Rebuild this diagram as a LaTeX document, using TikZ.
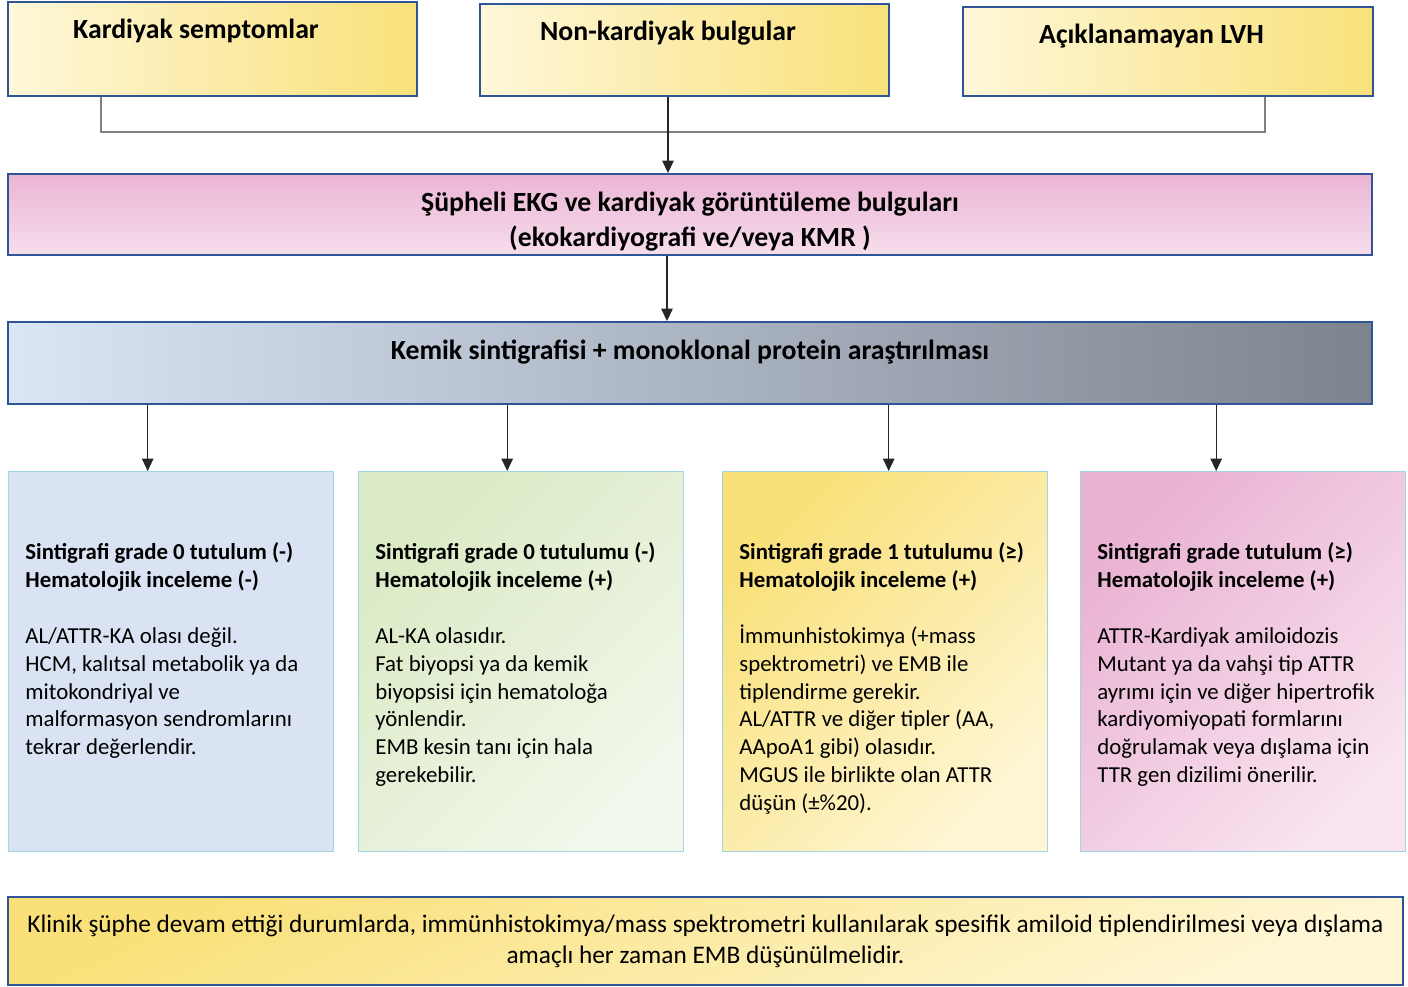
\documentclass[tikz,border=0pt]{standalone}
\usepackage{fontspec}
\setmainfont{Carlito}
\usetikzlibrary{positioning, calc, arrows.meta}

\definecolor{frameblue}{RGB}{47,85,151}
\definecolor{rescyan}{RGB}{160,212,232}
\definecolor{linkgray}{RGB}{128,128,128}
\definecolor{yellowlight}{RGB}{254,247,217}
\definecolor{yellowdeep}{RGB}{249,225,122}
\definecolor{pinktop}{RGB}{235,181,212}
\definecolor{pinkbottom}{RGB}{246,222,236}
\definecolor{kemiklight}{RGB}{218,230,245}
\definecolor{kemikgray}{RGB}{125,131,143}
\definecolor{resblue}{RGB}{218,227,243}
\definecolor{resgreen}{RGB}{218,234,196}
\definecolor{resgreenlight}{RGB}{242,247,235}
\definecolor{resyellow}{RGB}{249,224,120}
\definecolor{resyellowlight}{RGB}{254,246,212}
\definecolor{respink}{RGB}{233,178,210}
\definecolor{respinklight}{RGB}{249,228,239}

\begin{document}
\begin{tikzpicture}[
    every node/.style={font=\fontsize{13}{15.9}\selectfont},
    % Entry boxes: yellow, text close to the top edge
    topbox/.style={rectangle, draw=frameblue, line width=1.1pt,
        inner xsep=0pt, inner ysep=0pt, minimum width=8.18cm,
        text height=0.72cm, anchor=south,
        left color=yellowlight, right color=yellowdeep,
        font=\fontsize{15.8}{19}\selectfont\bfseries,
        execute at end node={\hspace*{0.66cm}}},
    % Full-width step boxes
    stepbox/.style={rectangle, draw=frameblue, line width=1.1pt,
        minimum width=27.28cm, inner sep=0pt,
        font=\fontsize{15.8}{19}\selectfont\bfseries},
    % Result boxes: thin light-blue frame
    resbox/.style={rectangle, draw=rescyan, line width=0.8pt,
        minimum width=6.5cm, minimum height=7.6cm,
        anchor=north west, inner sep=0pt},
    % Text inside the result boxes
    restext/.style={anchor=north west, align=left, inner sep=0pt},
    % Gray bracket joining the entry boxes
    link/.style={draw=linkgray, line width=0.8pt},
    % Arrow between steps
    arr/.style={draw=black!85, line width=0.6pt,
        -{Triangle[width=6.5pt, length=7pt]}},
]
\useasboundingbox (0,0) rectangle (28.16,-19.74);

% ====================================================
% ENTRY BOXES
% ====================================================
\node[topbox, text depth=1.16cm] (top-1) at (4.25, -1.94) {Kardiyak semptomlar};
\node[topbox, text depth=1.12cm] (top-2) at (13.69, -1.94) {Non-kardiyak bulgular};
\node[topbox, text depth=1.06cm, minimum width=8.2cm] (top-3) at (23.36, -1.94) {Açıklanamayan LVH};

% Bracket
\draw[link] ([xshift=-2.23cm]top-1.south) -- ++(0,-0.7) -| ([xshift=1.94cm]top-3.south);

% ====================================================
% STEPS
% ====================================================
\node[stepbox, minimum height=1.62cm, align=center,
    top color=pinktop, bottom color=pinkbottom,
    font=\fontsize{15.8}{19.9}\selectfont\bfseries] (susp) at (13.8, -4.29)
    {\rule{0pt}{0.66cm}Şüpheli EKG ve kardiyak görüntüleme bulguları\\(ekokardiyografi ve/veya KMR )};

\node[stepbox, text height=0.75cm, text depth=0.89cm,
    left color=kemiklight, right color=kemikgray] (kemik) at (13.8, -7.26)
    {Kemik sintigrafisi + monoklonal protein araştırılması};

\draw[arr] ([xshift=-0.33cm]top-2.south) -- ([xshift=-0.33cm]top-2.south |- susp.north);
\draw[arr] ([xshift=-0.46cm]susp.south) -- ([xshift=-0.46cm]kemik.north);

% ====================================================
% RESULT BOXES
% ====================================================
\node[resbox, fill=resblue] (res-1) at (0.16, -9.42) {};
\node[resbox, left color=resgreen, right color=resgreenlight, shading angle=45] (res-2) at (7.16, -9.42) {};
\node[resbox, left color=resyellow, right color=resyellowlight, shading angle=45] (res-3) at (14.44, -9.42) {};
\node[resbox, left color=respink, right color=respinklight, shading angle=45] (res-4) at (21.6, -9.42) {};

\draw[arr] ([xshift=-0.47cm]res-1.north |- kemik.south) -- ([xshift=-0.47cm]res-1.north);
\draw[arr] ([xshift=-0.28cm]res-2.north |- kemik.south) -- ([xshift=-0.28cm]res-2.north);
\draw[arr] ([xshift=0.07cm]res-3.north |- kemik.south) -- ([xshift=0.07cm]res-3.north);
\draw[arr] ([xshift=-0.54cm]res-4.north |- kemik.south) -- ([xshift=-0.54cm]res-4.north);

\node[restext] (res-1-txt) at ([shift={(0.34,-1.42)}]res-1.north west)
    {\textbf{Sintigrafi grade 0 tutulum (-)}\\
     \textbf{Hematolojik inceleme (-)}\\[15.9pt]
     AL/ATTR-KA olası değil.\\
     HCM, kalıtsal metabolik ya da\\
     mitokondriyal ve\\
     malformasyon sendromlarını\\
     tekrar değerlendir.};

\node[restext] (res-2-txt) at ([shift={(0.34,-1.42)}]res-2.north west)
    {\textbf{Sintigrafi grade 0 tutulumu (-)}\\
     \textbf{Hematolojik inceleme (+)}\\[15.9pt]
     AL-KA olasıdır.\\
     Fat biyopsi ya da kemik\\
     biyopsisi için hematoloğa\\
     yönlendir.\\
     EMB kesin tanı için hala\\
     gerekebilir.};

\node[restext] (res-3-txt) at ([shift={(0.34,-1.42)}]res-3.north west)
    {\textbf{Sintigrafi grade 1 tutulumu (≥)}\\
     \textbf{Hematolojik inceleme (+)}\\[15.9pt]
     İmmunhistokimya (+mass\\
     spektrometri) ve EMB ile\\
     tiplendirme gerekir.\\
     AL/ATTR ve diğer tipler (AA,\\
     AApoA1 gibi) olasıdır.\\
     MGUS ile birlikte olan ATTR\\
     düşün (±\%20).};

\node[restext] (res-4-txt) at ([shift={(0.34,-1.42)}]res-4.north west)
    {\textbf{Sintigrafi grade tutulum (≥)}\\
     \textbf{Hematolojik inceleme (+)}\\[15.9pt]
     ATTR-Kardiyak amiloidozis\\
     Mutant ya da vahşi tip ATTR\\
     ayrımı için ve diğer hipertrofik\\
     kardiyomiyopati formlarını\\
     doğrulamak veya dışlama için\\
     TTR gen dizilimi önerilir.};

% ====================================================
% NOTE AT THE BOTTOM
% ====================================================
\node[rectangle, draw=frameblue, line width=1.1pt, minimum width=27.9cm,
    minimum height=1.76cm, inner sep=0pt, align=center,
    left color=resyellow, right color=resyellowlight, shading angle=25,
    font=\fontsize{14.4}{17.6}\selectfont] (note) at (14.11, -18.82)
    {Klinik şüphe devam ettiği durumlarda, immünhistokimya/mass spektrometri kullanılarak spesifik amiloid tiplendirilmesi veya dışlama\\
     amaçlı her zaman EMB düşünülmelidir.};

\end{tikzpicture}
\end{document}
